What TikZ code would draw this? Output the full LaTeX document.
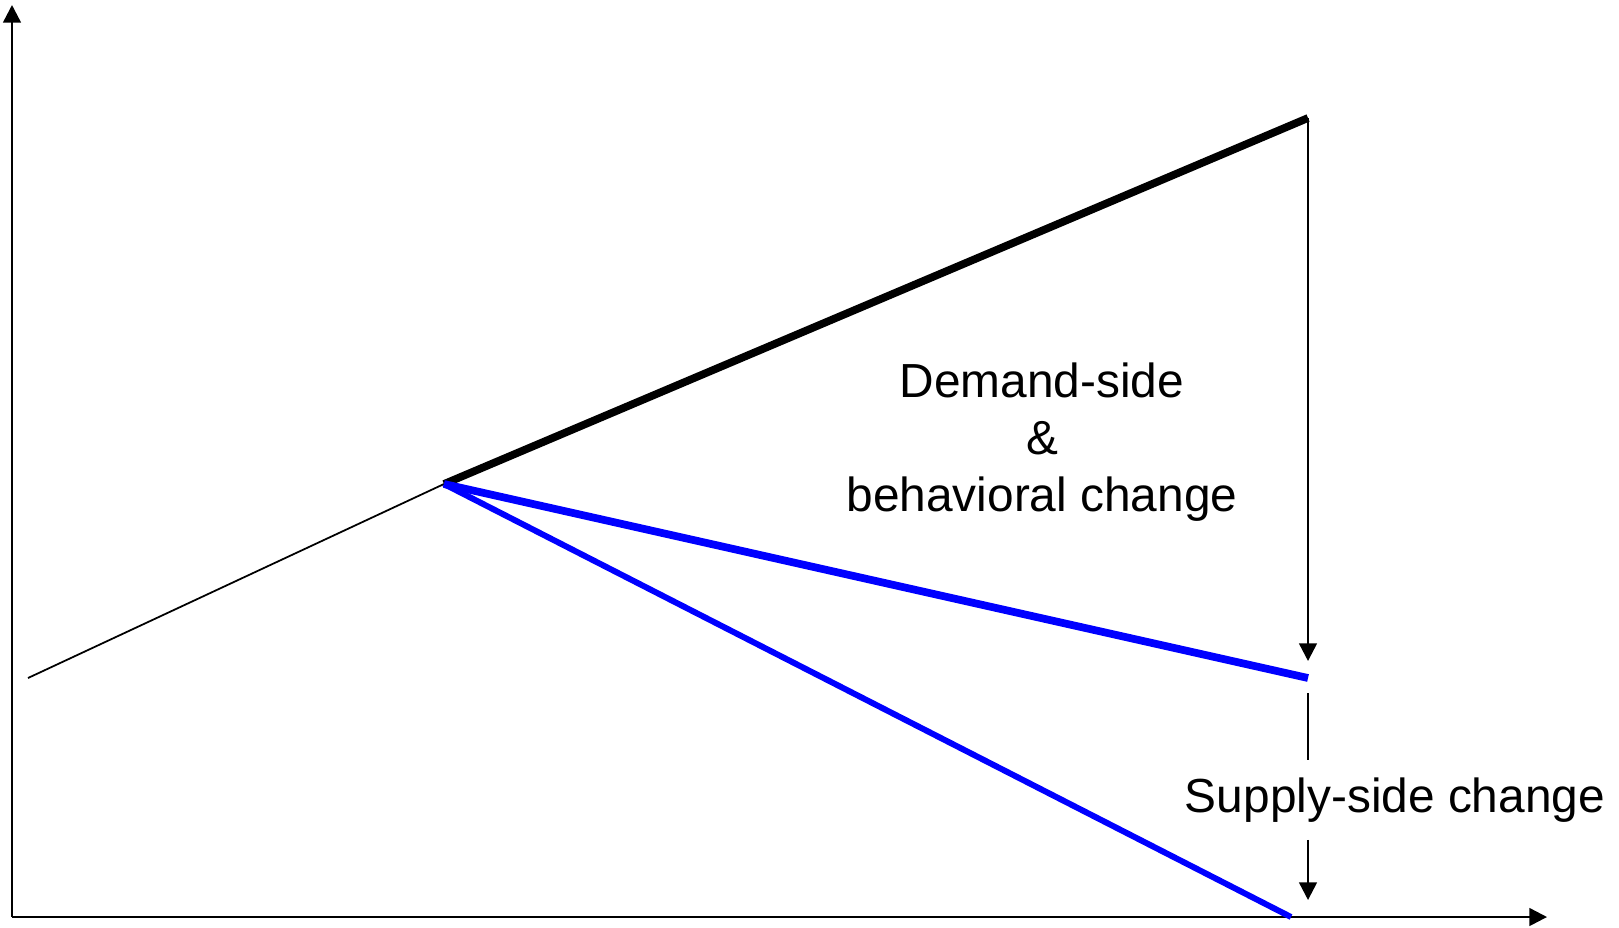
\documentclass[tikz,border=0pt]{standalone}
\usepackage{fontspec}
\setmainfont{Liberation Sans}
\usetikzlibrary{arrows.meta, positioning}
\tikzset{
>={Triangle[length=5pt, width=5pt]}, % filled triangle heads
axis/.style={->, line width=0.7pt}, % the two axes
trend/.style={line width=2.2pt, line cap=butt}, % thick scenario lines
gap/.style={->, line width=0.7pt}, % the vertical difference arrows
label/.style={align=center, font=\fontsize{13.6}{16.3}\selectfont}, % big labels
}

\begin{document}
\begin{tikzpicture}[x=0.01cm, y=-0.01cm]
        \useasboundingbox (0, 0) rectangle (1619, 927);

        \coordinate (origin) at (12, 917);
        \coordinate (ytop) at (12, 5);
        \coordinate (xend) at (1547, 917);

        \coordinate (start) at (28, 678);
        \coordinate (kink) at (444, 484);
        \coordinate (peak) at (1308, 118);
        \coordinate (bluehigh) at (1308, 678);
        \coordinate (bluelow) at (1291, 917);

        \coordinate (demtip) at (1308, 661);
        \coordinate (suptop) at (1308, 693);
        \coordinate (supbot) at (1308, 900);

        \node[label] (demand) at (1042, 442) {Demand-side\\\&\\behavioral change};
        \node[label, inner ysep=4.8pt] (supply) at (1395, 800) {Supply-side change};

        \draw[axis] (origin) -- (ytop);
        \draw[axis] (origin) -- (xend);

        \draw[line width=0.5pt] (start) -- (kink);
        \draw[trend] (kink) -- (peak);
        \draw[trend, blue] (kink) -- (bluehigh);
        \draw[trend, blue, line width=1.7pt] (kink) -- (bluelow);

        \draw[gap] (peak) -- (demtip);
        \draw[line width=0.7pt] (suptop) -- (suptop |- supply.north);
        \draw[gap] (suptop |- supply.south) -- (supbot);
    \end{tikzpicture}
\end{document}
